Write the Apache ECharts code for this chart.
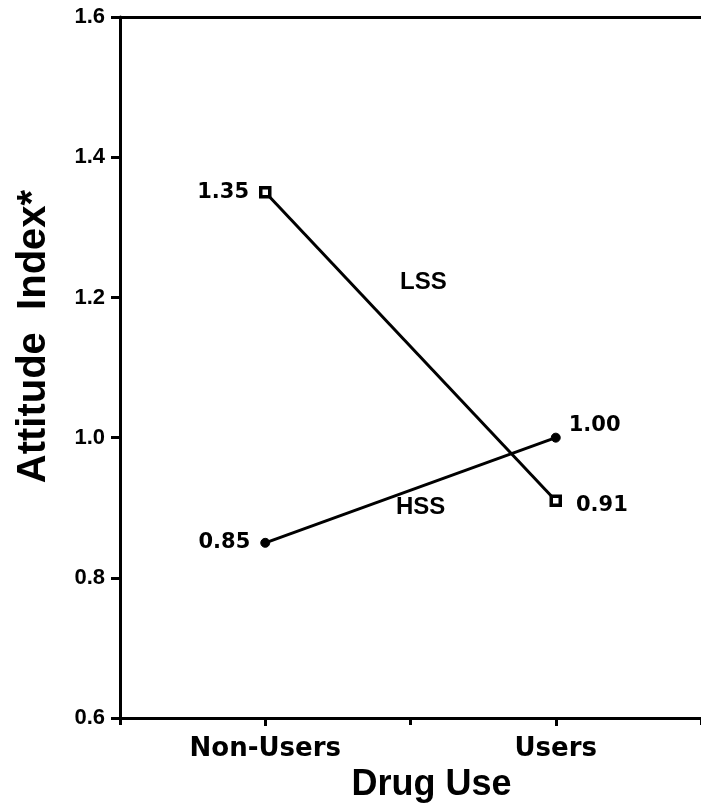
<!DOCTYPE html>
<html>
<head>
<meta charset="utf-8">
<script src="https://cdn.jsdelivr.net/npm/echarts@6/dist/echarts.min.js"></script>
<style>html,body{margin:0;padding:0;background:#fff}#c{width:701px;height:808px}</style>
</head>
<body>
<div id="c"></div>
<script>
var categories = ['Non-Users', 'Users'];
var lssValues = [1.35, 0.91];
var hssValues = [0.85, 1.00];
var yTicks = { min: 0.6, max: 1.6, interval: 0.2 };
var seriesNames = ['LSS', 'HSS'];

var chart = echarts.init(document.getElementById('c'), null, { renderer: 'canvas' });
var lblFont = { fontFamily: 'DejaVu Sans', fontWeight: 'bold', fontSize: 21, color: '#000' };

function fmt2(p) { return Number(p.value).toFixed(2); }

var lssLabels = [
  { show: true, position: 'left', distance: 10 },
  { show: true, position: 'right', distance: 14, offset: [0, 5] }
];
var hssLabels = [
  { show: true, position: 'left', distance: 10 },
  { show: true, position: 'right', distance: 8, offset: [0, -12] }
];

var option = {
  backgroundColor: '#fff',
  animation: false,
  grid: { left: 120, top: 17, width: 596, height: 708, containLabel: false },
  xAxis: [
    {
      type: 'category', data: categories, position: 'bottom', boundaryGap: true,
      axisLine: { onZero: false, lineStyle: { color: '#000', width: 3 } },
      axisTick: { show: true, alignWithLabel: true, length: 8, lineStyle: { color: '#000', width: 3 } },
      axisLabel: { margin: 18, fontFamily: 'DejaVu Sans', fontWeight: 'bold', fontSize: 26, color: '#000' },
      name: 'Drug Use', nameLocation: 'middle', nameGap: 42,
      nameTextStyle: { fontFamily: 'Liberation Sans', fontWeight: 'bold', fontSize: 36, color: '#000', padding: [0, 0, 0, 42] }
    },
    {
      type: 'category', data: categories, position: 'bottom', boundaryGap: true,
      axisLine: { show: false, onZero: false },
      axisTick: { show: true, length: 7, lineStyle: { color: '#000', width: 3 } },
      axisLabel: { show: false }
    },
    {
      type: 'category', data: categories, position: 'top',
      axisLine: { show: true, onZero: false, lineStyle: { color: '#000', width: 3 } },
      axisTick: { show: false }, axisLabel: { show: false }
    }
  ],
  yAxis: {
    type: 'value', min: yTicks.min, max: yTicks.max, interval: yTicks.interval,
    axisLine: { show: true, lineStyle: { color: '#000', width: 3 } },
    axisTick: { show: true, length: 9, lineStyle: { color: '#000', width: 3 } },
    splitLine: { show: false },
    axisLabel: { margin: 15, fontFamily: 'Liberation Sans', fontWeight: 'bold', fontSize: 22, color: '#000',
      formatter: function (v) { return v.toFixed(1); } },
    name: 'Attitude  Index*', nameLocation: 'middle', nameGap: 66, nameRotate: 90,
    nameTextStyle: { fontFamily: 'Liberation Sans', fontWeight: 'bold', fontSize: 40, color: '#000', padding: [0, 0, 0, 62] }
  },
  series: [
    {
      name: seriesNames[0], type: 'line', xAxisIndex: 0,
      data: lssValues.map(function (v, i) { return { value: v, label: lssLabels[i] }; }),
      symbol: 'rect', symbolSize: 9,
      lineStyle: { color: '#000', width: 3 },
      itemStyle: { color: '#fff', borderColor: '#000', borderWidth: 3.5 },
      label: Object.assign({ formatter: fmt2 }, lblFont)
    },
    {
      name: seriesNames[1], type: 'line', xAxisIndex: 0,
      data: hssValues.map(function (v, i) { return { value: v, label: hssLabels[i] }; }),
      symbol: 'circle', symbolSize: 9,
      lineStyle: { color: '#000', width: 3 },
      itemStyle: { color: '#000', borderColor: '#000', borderWidth: 1 },
      label: Object.assign({ formatter: fmt2 }, lblFont)
    }
  ],
  graphic: [
    { type: 'text', left: 400, top: 270, style: { text: seriesNames[0], font: 'bold 24px "Liberation Sans"', fill: '#000' } },
    { type: 'text', left: 396, top: 495, style: { text: seriesNames[1], font: 'bold 24px "Liberation Sans"', fill: '#000' } }
  ]
};
chart.setOption(option);
</script>
</body>
</html>
